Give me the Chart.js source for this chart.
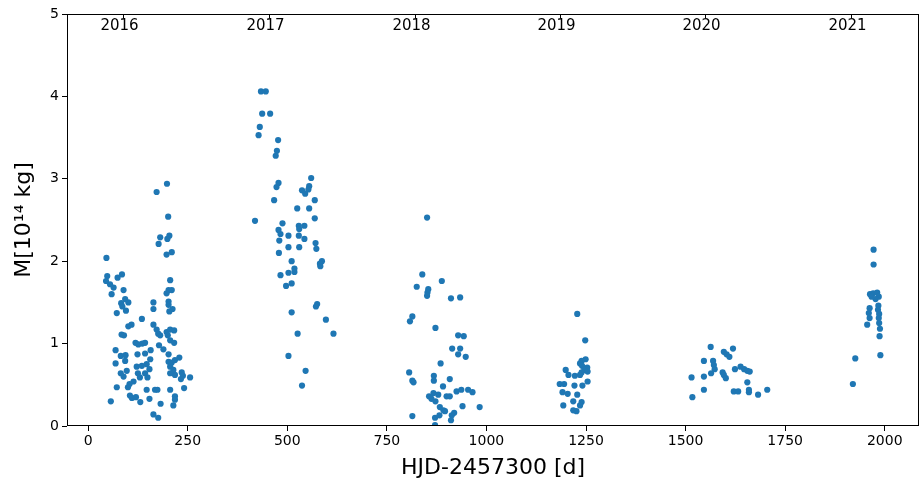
<!DOCTYPE html>
<html lang="en">
<head>
<meta charset="UTF-8">
<title>Mass vs HJD</title>
<script src="https://cdn.jsdelivr.net/npm/chart.js"></script>
<style>
  html, body { margin: 0; padding: 0; background: #fff; }
  #wrap { width: 924px; height: 487px; }
</style>
</head>
<body>
<div id="wrap"><canvas id="massChart" width="924" height="487"></canvas></div>
<script>
// days (HJD-2457300) and mass (1e14 kg), one pair of arrays per season
const d16 = [46,48,45,55,64,59,74,85,89,83,93,101,86,95,72,135,109,101,84,90,119,126,136,143,69,157,82,94,124,143,69,93,156,97,82,89,122,135,147,125,143,154,130,149,114,104,100,72,147,168,174,105,110,120,154,131,57,182,164,176,
  198,172,201,181,177,199,204,197,210,206,202,210,197,164,164,202,202,212,204,164,172,176,181,197,206,216,200,206,216,178,189,202,202,210,218,229,206,214,218,206,235,238,233,256,206,241,218,218,214];
const m16 = [2.04,1.82,1.76,1.72,1.68,1.60,1.80,1.84,1.65,1.49,1.54,1.50,1.45,1.40,1.37,1.30,1.23,1.21,1.11,1.10,1.01,0.99,1.00,1.01,0.92,0.92,0.85,0.86,0.87,0.88,0.76,0.79,0.81,0.67,0.64,0.60,0.72,0.73,0.75,0.64,0.64,0.69,0.59,0.59,0.54,0.51,0.47,0.47,0.44,0.44,0.44,0.37,0.34,0.35,0.33,0.29,0.30,0.27,0.14,0.10,
  2.94,2.84,2.54,2.29,2.21,2.27,2.31,2.08,2.11,1.77,1.65,1.65,1.61,1.50,1.42,1.51,1.47,1.42,1.39,1.23,1.17,1.12,1.10,1.14,1.17,1.16,1.10,1.04,1.01,0.98,0.93,0.87,0.78,0.77,0.80,0.83,0.72,0.68,0.62,0.64,0.65,0.61,0.57,0.59,0.44,0.46,0.36,0.32,0.25];

const d17 = [434,446,437,457,431,428,477,474,471,560,478,473,555,553,537,545,467,569,525,555,419,569,488,529,543,530,478,483,503,529,543,480,571,503,530,573,479,511,587,582,583,518,518,503,483,511,497,575,572,511,597,526,616,503,546,537];
const m17 = [4.06,4.06,3.79,3.79,3.63,3.53,3.47,3.34,3.28,3.01,2.95,2.90,2.91,2.87,2.86,2.82,2.74,2.74,2.64,2.64,2.49,2.52,2.46,2.43,2.43,2.39,2.38,2.33,2.31,2.31,2.27,2.25,2.22,2.17,2.17,2.15,2.10,2.00,2.00,1.97,1.94,1.91,1.87,1.86,1.83,1.73,1.70,1.48,1.45,1.38,1.29,1.12,1.12,0.85,0.67,0.49];

const d18 = [851,839,888,825,854,852,851,911,934,814,808,872,929,943,914,934,929,948,885,806,814,817,868,868,908,891,925,937,954,965,867,879,856,862,872,900,908,883,892,896,940,983,919,913,911,882,871,814,871];
const m18 = [2.53,1.84,1.76,1.69,1.66,1.62,1.58,1.55,1.56,1.33,1.27,1.19,1.10,1.09,0.94,0.94,0.87,0.84,0.76,0.65,0.55,0.53,0.61,0.55,0.57,0.48,0.42,0.44,0.44,0.41,0.40,0.38,0.36,0.33,0.30,0.36,0.36,0.23,0.19,0.18,0.24,0.23,0.16,0.13,0.07,0.13,0.10,0.12,0.01];

const d19 = [1228,1248,1249,1239,1235,1240,1253,1246,1199,1206,1254,1239,1235,1222,1254,1241,1184,1195,1221,1191,1204,1228,1218,1193,1239,1235,1218,1226];
const m19 = [1.36,1.04,0.81,0.79,0.76,0.73,0.71,0.68,0.68,0.62,0.66,0.65,0.62,0.61,0.54,0.49,0.51,0.51,0.49,0.41,0.39,0.38,0.30,0.25,0.29,0.25,0.19,0.18];

const d20 = [1563,1619,1596,1603,1610,1546,1569,1571,1573,1624,1638,1647,1655,1661,1564,1593,1596,1601,1546,1515,1655,1546,1621,1632,1659,1659,1682,1705,1517];
const m20 = [0.96,0.94,0.90,0.87,0.84,0.79,0.79,0.74,0.69,0.69,0.72,0.69,0.67,0.66,0.64,0.65,0.62,0.58,0.60,0.59,0.53,0.44,0.42,0.42,0.44,0.41,0.38,0.44,0.35];

const d21 = [1972,1972,1963,1971,1981,1985,1977,1967,1984,1962,1983,1960,1986,1985,1962,1956,1986,1988,1987,1989,1926,1920];
const m21 = [2.14,1.96,1.60,1.61,1.62,1.57,1.54,1.57,1.46,1.43,1.41,1.37,1.36,1.31,1.31,1.23,1.25,1.18,1.09,0.86,0.82,0.51];

// top axis: start of each calendar year in HJD-2457300
const years = ['2016','2017','2018','2019','2020','2021'];
const yearStart = [88.5, 454.5, 819.5, 1184.5, 1549.5, 1915.5];
const xTicks = [0,250,500,750,1000,1250,1500,1750,2000];

const days = [].concat(d16, d17, d18, d19, d20, d21);
const mass = [].concat(m16, m17, m18, m19, m20, m21);
const points = days.map((d, i) => ({ x: d, y: mass[i] }));

Chart.defaults.font.family = "'DejaVu Sans', sans-serif";
Chart.defaults.color = '#000';

const frameAndYears = {
  id: 'frameAndYears',
  afterDraw(chart) {
    const ctx = chart.ctx;
    const a = chart.chartArea;
    const xs = chart.scales.x;
    ctx.save();
    ctx.strokeStyle = '#000';
    ctx.lineWidth = 1;
    ctx.strokeRect(a.left + 0.5, a.top + 0.5, a.right - a.left - 1, a.bottom - a.top - 1);
    ctx.font = "15px 'DejaVu Sans', sans-serif";
    ctx.fillStyle = '#000';
    ctx.textAlign = 'center';
    ctx.textBaseline = 'middle';
    yearStart.forEach((d, i) => {
      const px = Math.round(xs.getPixelForValue(d)) + 0.5;
      ctx.beginPath();
      ctx.moveTo(px, a.top);
      ctx.lineTo(px, a.top + 4);
      ctx.stroke();
      ctx.fillText(years[i], px - 4, a.top + 12);
    });
    ctx.restore();
  }
};

new Chart(document.getElementById('massChart'), {
  type: 'scatter',
  data: {
    datasets: [{
      data: points,
      backgroundColor: '#1f77b4',
      borderWidth: 0,
      pointRadius: 3.1,
      pointHoverRadius: 3.1
    }]
  },
  options: {
    responsive: false,
    animation: false,
    events: [],
    layout: { padding: { top: 14, right: 5, left: 0, bottom: 0 } },
    plugins: { legend: { display: false }, tooltip: { enabled: false } },
    scales: {
      x: {
        type: 'linear',
        min: -53,
        max: 2086,
        afterBuildTicks: s => { s.ticks = xTicks.map(v => ({ value: v })); },
        afterFit: s => { s.height = 61; },
        border: { display: false },
        grid: { drawOnChartArea: false, color: '#000', tickLength: 5 },
        ticks: { font: { size: 14 }, padding: 2, maxRotation: 0, callback: v => String(v) },
        title: { display: true, text: 'HJD-2457300 [d]', font: { size: 22 }, padding: { top: 0, bottom: 6 } }
      },
      y: {
        min: 0,
        max: 5,
        afterFit: s => { s.width = 67; },
        border: { display: false },
        grid: { drawOnChartArea: false, color: '#000', tickLength: 5 },
        ticks: { stepSize: 1, font: { size: 14 }, padding: 3 },
        title: { display: true, text: 'M[10¹⁴ kg]', font: { size: 22 }, padding: { top: 11, bottom: 0 } }
      }
    }
  },
  plugins: [frameAndYears]
});
</script>
</body>
</html>
